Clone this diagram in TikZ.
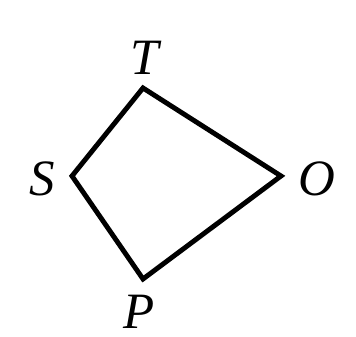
\documentclass[tikz,border=0pt]{standalone}
\usepackage{fontspec}
\newfontfamily\lblfont{Liberation Serif Italic}
\begin{document}
\begin{tikzpicture}[x=0.02cm,y=-0.02cm,
  edge/.style={line width=2.8pt,line join=miter},
  lbl/.style={font=\fontsize{29}{33}\selectfont\lblfont,inner sep=0pt}]
\useasboundingbox (0,0) rectangle (356,337);
\coordinate (T) at (143,88);
\coordinate (O) at (281,176);
\coordinate (P) at (143,279);
\coordinate (S) at (72,176);
\draw[edge] (S) -- (T) -- (O) -- (P) -- cycle;
\node[lbl] (lT) at (145,58) {T};
\node[lbl] (lS) at (42,179) {S};
\node[lbl] (lO) at (317,179) {O};
\node[lbl] (lP) at (139,312) {P};
\end{tikzpicture}
\end{document}
